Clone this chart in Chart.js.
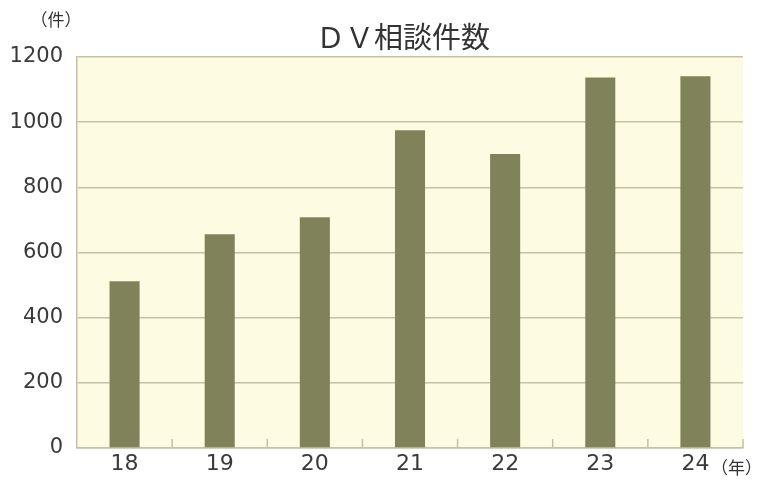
<!DOCTYPE html>
<html>
<head>
<meta charset="utf-8">
<script src="https://cdn.jsdelivr.net/npm/chart.js@4"></script>
<style>
html,body{margin:0;padding:0;background:#fff;}
#wrap{width:758px;height:482px;}
</style>
</head>
<body>
<div id="wrap"><canvas id="c" width="758" height="482"></canvas></div>
<script>
const categories = ['18', '19', '20', '21', '22', '23', '24'];
const counts = [512, 656, 708, 975, 902, 1137, 1141];
const yTicks = [0, 200, 400, 600, 800, 1000, 1200];
const titleText = 'ＤＶ相談件数';
const yUnit = '（件）';
const xUnit = '（年）';

const PLOT_LEFT = 77, PLOT_RIGHT = 743, PLOT_TOP = 57, PLOT_BOTTOM = 448;

const bgPlugin = {
  id: 'bg',
  beforeDraw(chart) {
    const {ctx, chartArea: a} = chart;
    ctx.save();
    ctx.fillStyle = '#fdfce3';
    ctx.fillRect(a.left, a.top, a.right - a.left, a.bottom - a.top);
    ctx.restore();
  }
};

const decoPlugin = {
  id: 'deco',
  afterDatasetsDraw(chart) {
    const {ctx, chartArea: a} = chart;
    const xs = chart.scales.x;
    ctx.save();
    ctx.strokeStyle = '#c4c2a6';
    ctx.lineWidth = 1.5;
    for (let i = 1; i <= categories.length; i++) {
      let x;
      if (i < categories.length) {
        x = (xs.getPixelForValue(i - 1) + xs.getPixelForValue(i)) / 2;
      } else {
        x = a.right;
      }
      ctx.beginPath();
      ctx.moveTo(x, a.bottom);
      ctx.lineTo(x, a.bottom - 9);
      ctx.stroke();
    }
    ctx.restore();
  },
  afterDraw(chart) {
    const {ctx} = chart;
    ctx.save();
    ctx.fillStyle = '#333';
    ctx.textBaseline = 'middle';
    ctx.textAlign = 'center';
    ctx.font = '29px "Noto Sans CJK JP"';
    ctx.fillText(titleText, 403, 37);
    ctx.font = '17px "Noto Sans CJK JP"';
    ctx.fillText(yUnit, 56, 20);
    ctx.textAlign = 'left';
    ctx.fillText(xUnit, 711, 468);
    ctx.restore();
  }
};

new Chart(document.getElementById('c'), {
  type: 'bar',
  data: {
    labels: categories,
    datasets: [{
      data: counts,
      backgroundColor: '#80825a',
      borderWidth: 0,
      categoryPercentage: 1,
      barPercentage: 0.316
    }]
  },
  options: {
    responsive: false,
    animation: false,
    devicePixelRatio: 1,
    layout: { padding: { top: PLOT_TOP, right: 758 - PLOT_RIGHT, left: 0, bottom: 0 } },
    plugins: { legend: { display: false }, title: { display: false }, tooltip: { enabled: false } },
    scales: {
      x: {
        grid: { display: false, drawTicks: false },
        border: { display: true, color: '#c4c2a6', width: 1.5 },
        ticks: { color: '#3a3a3a', font: { family: '"DejaVu Sans"', size: 22 }, padding: 3 },
        afterFit(s) { s.height = 482 - PLOT_BOTTOM; }
      },
      y: {
        min: 0, max: 1200,
        afterBuildTicks(s) { s.ticks = yTicks.map(v => ({ value: v })); },
        grid: { color: '#c4c2a6', lineWidth: 1.5, drawTicks: false },
        border: { display: true, color: '#c4c2a6', width: 1.5 },
        ticks: { color: '#3a3a3a', font: { family: '"DejaVu Sans"', size: 21 }, padding: 14,
                 callback: v => String(v) },
        afterFit(s) { s.width = PLOT_LEFT; }
      }
    }
  },
  plugins: [bgPlugin, decoPlugin]
});
</script>
</body>
</html>
